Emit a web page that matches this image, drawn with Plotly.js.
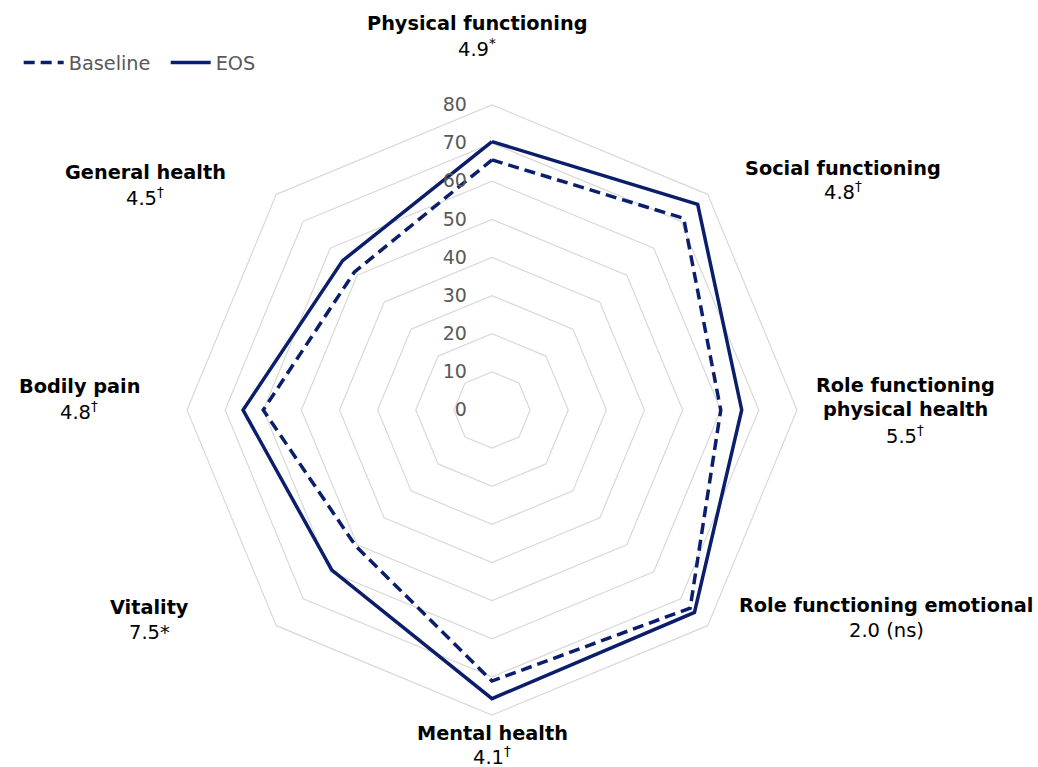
<!DOCTYPE html>
<html>
<head>
<meta charset="utf-8">
<script src="https://cdn.plot.ly/plotly-3.0.1.min.js"></script>
<style>html,body{margin:0;padding:0;background:#fff;}#chart{width:1038px;height:767px;}</style>
</head>
<body>
<div id="chart"></div>
<script>
// ---- data ----
var categories = ["Physical functioning", "Social functioning", "Role functioning physical health",
  "Role functioning emotional", "Mental health", "Vitality", "Bodily pain", "General health"];
var baseline = [65.6, 71.1, 60.0, 73.5, 71.1, 50.5, 60.0, 51.1];
var eos      = [70.4, 76.3, 65.5, 75.1, 75.7, 59.4, 65.3, 55.4];
var labelNames = [["Physical functioning"], ["Social functioning"], ["Role functioning", "physical health"],
  ["Role functioning emotional"], ["Mental health"], ["Vitality"], ["Bodily pain"], ["General health"]];
var labelValues = ["4.9<sup>*</sup>", "4.8<sup>†</sup>", "5.5<sup>†</sup>", "2.0 (ns)",
  "4.1<sup>†</sup>", "7.5*", "4.8<sup>†</sup>", "4.5<sup>†</sup>"];
var radialTicks = [0, 10, 20, 30, 40, 50, 60, 70, 80];

// ---- layout helpers (pixel positions of the label blocks) ----
var W = 1038, H = 767;
var labelPos = [[477, 24], [843, 168], [905, 385], [886, 605], [492, 733], [149, 607], [79, 387], [145, 173]];
var lineGaps = [24, 23, 25, 25, 23, 25, 24, 24];
var navy = "#0b1e6b";
var font = "DejaVu Sans, Verdana, sans-serif";

function closeLoop(a) { return a.concat([a[0]]); }

var traces = [
  {type: "scatterpolar", name: "Baseline", r: closeLoop(baseline), theta: closeLoop(categories),
   mode: "lines", line: {color: navy, width: 3.5, dash: "11px,6px"}, hoverinfo: "skip"},
  {type: "scatterpolar", name: "EOS", r: closeLoop(eos), theta: closeLoop(categories),
   mode: "lines", line: {color: navy, width: 3.5}, hoverinfo: "skip"}
];

var annotations = [];
for (var i = 0; i < categories.length; i++) {
  var px = labelPos[i][0], py = labelPos[i][1], g = lineGaps[i];
  var lines = labelNames[i];
  for (var j = 0; j < lines.length; j++) {
    annotations.push({xref: "paper", yref: "paper", x: px / W, y: 1 - (py + j * g) / H,
      xanchor: "center", yanchor: "middle", showarrow: false,
      text: "<b>" + lines[j] + "</b>", font: {family: font, size: 19.3, color: "#000"}});
  }
  annotations.push({xref: "paper", yref: "paper", x: px / W, y: 1 - (py + lines.length * g) / H,
    xanchor: "center", yanchor: "middle", showarrow: false,
    text: labelValues[i], font: {family: font, size: 19.5, color: "#000"}});
}

var layout = {
  width: W, height: H,
  margin: {l: 0, r: 0, t: 0, b: 0},
  paper_bgcolor: "#fff",
  showlegend: true,
  legend: {orientation: "h", x: 0.018, y: 0.918, xanchor: "left", yanchor: "middle",
    font: {family: font, size: 19.3, color: "#595959"}, itemwidth: 40, tracegroupgap: 0,
    entrywidth: 92},
  polar: {
    domain: {x: [187 / W, 797 / W], y: [1 - 715 / H, 1 - 105 / H]},
    gridshape: "linear",
    bgcolor: "#fff",
    angularaxis: {rotation: 90, direction: "clockwise", showticklabels: false, ticks: "",
      showline: true, linecolor: "#d9d9d9", linewidth: 1.2, showgrid: false,
      categoryarray: categories, categoryorder: "array"},
    radialaxis: {range: [0, 80], tickvals: radialTicks, angle: 90, tickangle: 90,
      side: "counterclockwise", showline: false, ticks: "outside", ticklen: 18, tickcolor: "rgba(0,0,0,0)",
      gridcolor: "#d9d9d9", gridwidth: 1.2,
      tickfont: {family: font, size: 19, color: "#595959"}}
  },
  annotations: annotations
};

Plotly.newPlot("chart", traces, layout, {displayModeBar: false, staticPlot: true});
</script>
</body>
</html>
